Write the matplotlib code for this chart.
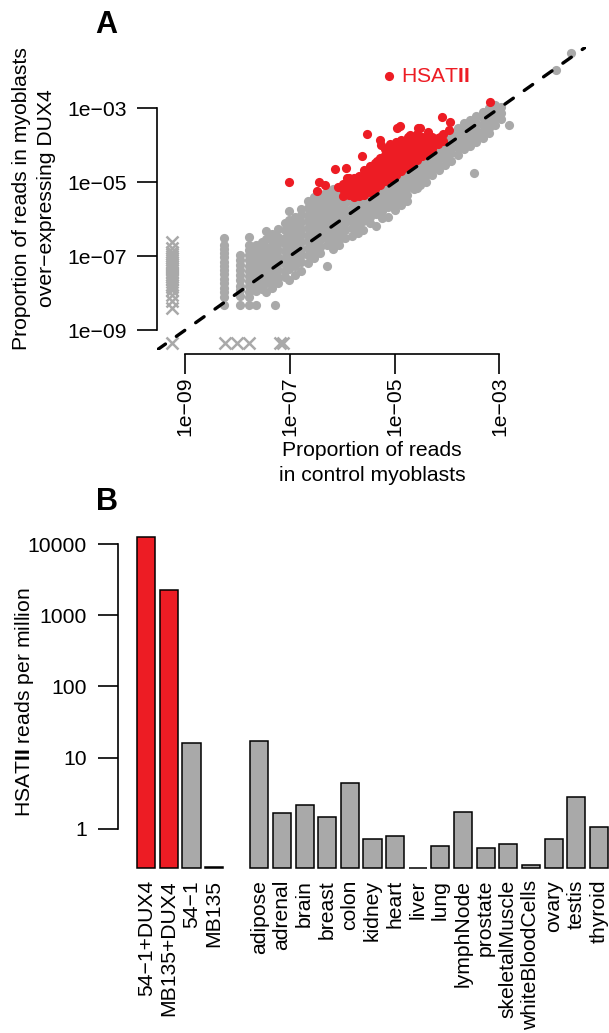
import numpy as np
import matplotlib
matplotlib.use('Agg')
import matplotlib.pyplot as plt
from matplotlib.ticker import FixedLocator, FixedFormatter, NullLocator

plt.rcParams['font.family'] = ['Liberation Sans', 'DejaVu Sans']
plt.rcParams['mathtext.fontset'] = 'custom'
plt.rcParams['mathtext.rm'] = 'Liberation Sans'
plt.rcParams['mathtext.it'] = 'Liberation Sans:italic'
plt.rcParams['mathtext.bf'] = 'Liberation Sans:bold'

RED = '#ED1C24'
GREY = '#A9A9A9'
FS = 15.2

# ---- panel A data (log10 proportion of reads) ----
# zeros are drawn as crosses at a floor value
ZERO_LX = -9.26
ZERO_LY = -9.34
ctrl_zero_ly = [-6.61, -6.79, -6.88, -6.94, -7.00, -7.05, -7.10, -7.16, -7.22, -7.27, -7.33,
                -7.39, -7.45, -7.51, -7.57, -7.63, -7.70, -7.77, -7.84, -7.92, -8.05, -8.22, -8.41]
dux_zero_lx = [-9.26, -8.25, -8.02, -7.79, -7.19, -7.14]

# grey repeats, grouped by control value: (log10 control, [log10 DUX4 ...])
grey_low = [
    (-8.26, [-6.51, -6.70, -6.81, -6.92, -7.03, -7.15, -7.26, -7.38, -7.49, -7.61, -7.74, -7.86, -7.97, -8.10, -8.32]),
    (-7.95, [-6.97, -7.10, -7.24, -7.37, -7.52, -7.66, -7.80, -7.93, -8.08, -8.32]),
    (-7.79, [-6.48, -6.71, -6.84, -6.98, -7.12, -7.27, -7.40, -7.55, -7.68, -7.82, -7.96, -8.10, -8.32]),
    (-7.64, [-6.70, -6.83, -6.97, -7.11, -7.25, -7.39, -7.53, -7.67, -7.81, -7.95, -8.32]),
    (-7.53, [-6.62, -6.80, -6.95, -7.10, -7.26, -7.42, -7.58, -7.74, -7.90]),
    (-7.45, [-6.32, -6.55, -6.75, -6.92, -7.08, -7.24, -7.40, -7.56, -7.72, -7.98]),
    (-7.34, [-6.40, -6.60, -6.78, -6.96, -7.14, -7.32, -7.50, -7.68, -7.86]),
    (-7.29, [-8.32]),
    (-7.22, [-6.28, -6.48, -6.66, -6.84, -7.02, -7.20, -7.38, -7.56, -7.72]),
    (-7.10, [-6.10, -6.30, -6.50, -6.68, -6.86, -7.04, -7.22, -7.40, -7.58]),
    (-7.02, [-5.78, -6.02, -6.22, -6.42, -6.60, -6.80, -7.00, -7.18, -7.36, -7.65]),
]
grey_band = [
    (-6.90, [-5.95, -6.14, -6.33, -6.52, -6.71, -6.90, -7.09, -7.28, -7.50]),
    (-6.78, [-5.72, -5.90, -6.08, -6.26, -6.44, -6.62, -6.80, -6.98, -7.16, -7.40]),
    (-6.66, [-5.52, -5.70, -5.88, -6.06, -6.24, -6.42, -6.60, -6.78, -6.96, -7.20]),
    (-6.54, [-5.40, -5.58, -5.76, -5.94, -6.12, -6.30, -6.48, -6.66, -6.84, -7.05]),
    (-6.42, [-5.32, -5.50, -5.68, -5.86, -6.04, -6.22, -6.40, -6.58, -6.76, -6.93]),
    (-6.30, [-5.25, -5.42, -5.60, -5.78, -5.96, -6.14, -6.32, -6.50, -6.70, -7.27]),
    (-6.18, [-5.18, -5.36, -5.54, -5.72, -5.90, -6.08, -6.26, -6.44, -6.62, -6.80]),
    (-6.06, [-5.30, -5.48, -5.66, -5.84, -6.02, -6.20, -6.38, -6.56, -6.70]),
    (-5.94, [-5.40, -5.58, -5.76, -5.94, -6.12, -6.30, -6.50]),
    (-5.82, [-5.35, -5.52, -5.70, -5.88, -6.06, -6.24, -6.45]),
    (-5.70, [-5.30, -5.48, -5.66, -5.84, -6.02, -6.20, -6.38]),
    (-5.60, [-5.32, -5.50, -5.68, -5.86, -6.04, -6.30]),
    (-5.48, [-5.22, -5.40, -5.58, -5.76, -5.94, -6.12]),
    (-5.36, [-5.15, -5.33, -5.51, -5.69, -5.87, -6.20]),
    (-5.24, [-5.05, -5.23, -5.41, -5.59, -5.77, -5.98]),
    (-5.12, [-4.95, -5.13, -5.31, -5.49, -5.67, -5.94]),
    (-5.00, [-4.85, -5.03, -5.21, -5.39, -5.57, -5.76]),
    (-4.88, [-4.75, -4.93, -5.11, -5.29, -5.47, -5.62]),
    (-4.76, [-4.62, -4.80, -4.98, -5.16, -5.34, -5.50]),
    (-4.64, [-4.50, -4.68, -4.86, -5.04, -5.20]),
    (-4.58, [-5.17]),
    (-4.52, [-4.38, -4.56, -4.74, -4.92, -5.08]),
    (-4.40, [-4.26, -4.44, -4.62, -4.80, -4.99]),
    (-4.28, [-4.10, -4.28, -4.46, -4.64, -4.80]),
    (-4.16, [-4.00, -4.18, -4.36, -4.54, -4.68]),
    (-4.04, [-3.80, -3.98, -4.16, -4.34, -4.55]),
    (-3.92, [-3.68, -3.86, -4.04, -4.22, -4.42]),
    (-3.80, [-3.55, -3.73, -3.91, -4.09, -4.28]),
    (-3.68, [-3.41, -3.59, -3.77, -3.95, -4.12]),
    (-3.56, [-3.32, -3.50, -3.68, -3.86, -4.02]),
    (-3.48, [-4.75]),
    (-3.44, [-3.22, -3.40, -3.58, -3.76, -3.92]),
    (-3.32, [-3.10, -3.28, -3.46, -3.64, -3.80]),
    (-3.20, [-3.01, -3.19, -3.37, -3.55, -3.68]),
    (-3.08, [-2.92, -3.10, -3.28, -3.46]),
    (-2.96, [-2.96, -3.14, -3.30]),
    (-2.82, [-3.46]),
    (-1.91, [-1.97]),
    (-1.64, [-1.52]),
]

# red: repeats enriched in DUX4 myoblasts
red_core = [
    (-5.98, [-5.38, -5.20, -5.05]),
    (-5.88, [-5.36, -5.18, -5.00, -4.88]),
    (-5.78, [-5.40, -5.24, -5.06, -4.90]),
    (-5.68, [-5.38, -5.20, -5.02, -4.84]),
    (-5.58, [-5.36, -5.18, -5.00, -4.82, -4.68]),
    (-5.48, [-5.28, -5.10, -4.92, -4.74, -4.58]),
    (-5.38, [-5.18, -5.00, -4.82, -4.64, -4.48]),
    (-5.28, [-5.08, -4.90, -4.72, -4.54, -4.36]),
    (-5.18, [-4.98, -4.80, -4.62, -4.44, -4.26, -4.10]),
    (-5.08, [-4.88, -4.70, -4.52, -4.34, -4.16, -3.98]),
    (-4.98, [-4.80, -4.62, -4.44, -4.26, -4.08, -3.92]),
    (-4.88, [-4.70, -4.52, -4.34, -4.16, -3.98, -3.86]),
    (-4.78, [-4.60, -4.42, -4.24, -4.06, -3.88]),
    (-4.68, [-4.50, -4.32, -4.14, -3.96, -3.80]),
    (-4.58, [-4.40, -4.22, -4.04, -3.86, -3.70]),
    (-4.48, [-4.30, -4.12, -3.94, -3.78]),
    (-4.38, [-4.20, -4.02, -3.86]),
    (-4.28, [-4.10, -3.92, -3.78]),
    (-4.18, [-3.98, -3.82]),
    (-4.08, [-3.90, -3.70]),
]
red_spread = [(-7.02, -4.99), (-6.49, -5.24), (-6.44, -5.01), (-6.33, -5.08), (-6.14, -4.65),
              (-6.08, -5.13), (-5.93, -4.61), (-5.92, -4.88), (-5.63, -4.30), (-5.53, -3.70),
              (-5.34, -4.43), (-5.28, -3.86), (-5.27, -4.00), (-4.96, -3.55), (-4.90, -3.48),
              (-4.74, -3.77), (-5.06, -4.05), (-4.55, -3.55), (-4.37, -3.64), (-4.09, -3.23),
              (-3.94, -3.37), (-3.96, -3.60), (-4.13, -3.78), (-4.52, -3.55), (-4.71, -3.73),
              (-3.18, -2.83)]
hsatii = (-5.10, -2.14)

a_ticks = [1e-9, 1e-7, 1e-5, 1e-3]
a_tick_labels = ['1e\u221209', '1e\u221207', '1e\u221205', '1e\u221203']

# ---- panel B data ----
cell_lines = ['54\u22121+DUX4', 'MB135+DUX4', '54\u22121', 'MB135']
cell_rpm = [12770, 2240, 15.8, 0.29]
tissues = ['adipose', 'adrenal', 'brain', 'breast', 'colon', 'kidney', 'heart', 'liver', 'lung',
           'lymphNode', 'prostate', 'skeletalMuscle', 'whiteBloodCells', 'ovary', 'testis', 'thyroid']
tissue_rpm = [17.1, 1.66, 2.17, 1.47, 4.41, 0.72, 0.80, 0.28, 0.58, 1.69, 0.53, 0.60, 0.31, 0.72, 2.81, 1.04]
b_ticks = [1, 10, 100, 1000, 10000]
B_FLOOR = 0.28


def flatten(groups):
    xs, ys = [], []
    for lx, lys in groups:
        xs += [lx] * len(lys)
        ys += lys
    return 10 ** np.array(xs), 10 ** np.array(ys)


W, H = 609, 1033
fig = plt.figure(figsize=(W / 100, H / 100), dpi=100)


def px_box(l, t, r, b):
    return [l / W, 1 - b / H, (r - l) / W, (b - t) / H]


# ================= panel A =================
axA = fig.add_axes(px_box(156.7, 47, 585.6, 350))
axA.set_xscale('log')
axA.set_yscale('log')
axA.set_xlim(10 ** -9.546, 10 ** -1.353)
axA.set_ylim(10 ** -9.54, 10 ** -1.35)

gx, gy = flatten(grey_low + grey_band)
axA.plot(gx, gy, 'o', ms=6.6, mew=0, color=GREY, zorder=2)
axA.plot([10 ** ZERO_LX] * len(ctrl_zero_ly), 10 ** np.array(ctrl_zero_ly), 'x',
         ms=8, mew=1.8, color=GREY, zorder=2, clip_on=False)
axA.plot(10 ** np.array(dux_zero_lx), [10 ** ZERO_LY] * len(dux_zero_lx), 'x',
         ms=8, mew=1.8, color=GREY, zorder=2, clip_on=False)

rx, ry = flatten(red_core)
sx = 10 ** np.array([p[0] for p in red_spread])
sy = 10 ** np.array([p[1] for p in red_spread])
axA.plot(rx, ry, 'o', ms=6.6, mew=0, color=RED, zorder=3)
axA.plot(sx, sy, 'o', ms=6.6, mew=0, color=RED, zorder=3)
axA.plot([10 ** hsatii[0]], [10 ** hsatii[1]], 'o', ms=6.6, mew=0, color=RED, zorder=3)
axA.annotate('HSAT$\\mathbf{II}$', (10 ** hsatii[0], 10 ** hsatii[1]), xytext=(8.5, 0),
             textcoords='offset points', color=RED, fontsize=FS, va='center', ha='left')

axA.axline((1e-9, 1e-9), (1e-3, 1e-3), color='black', lw=2.4,
           dashes=(3.1, 4.0), dash_capstyle='round', zorder=4)

for s in ['top', 'right']:
    axA.spines[s].set_visible(False)
axA.spines['left'].set_bounds(1e-9, 1e-3)
axA.spines['bottom'].set_bounds(1e-9, 1e-3)
axA.spines['bottom'].set_position(('outward', 2.9))
for s in ['left', 'bottom']:
    axA.spines[s].set_linewidth(1.2)
for axis in [axA.xaxis, axA.yaxis]:
    axis.set_major_locator(FixedLocator(a_ticks))
    axis.set_major_formatter(FixedFormatter(a_tick_labels))
    axis.set_minor_locator(NullLocator())
axA.tick_params(axis='both', length=14.4, width=1.2, labelsize=FS)
axA.tick_params(axis='y', pad=7.2)
axA.tick_params(axis='x', pad=1.5, labelrotation=90)

fig.text(21.3 / W, 1 - 198.5 / H, 'Proportion of reads in myoblasts', rotation=90,
         ha='center', va='center', fontsize=FS)
fig.text(46.7 / W, 1 - 198.5 / H, 'over\u2212expressing DUX4', rotation=90,
         ha='center', va='center', fontsize=FS)
fig.text(372 / W, 1 - 450.5 / H, 'Proportion of reads', ha='center', va='center', fontsize=FS)
fig.text(372 / W, 1 - 475.5 / H, 'in control myoblasts', ha='center', va='center', fontsize=FS)
fig.text(95.5 / W, 1 - 33.3 / H, 'A', fontsize=22, fontweight='bold', ha='left', va='baseline')

# ================= panel B =================
axB = fig.add_axes(px_box(118.3, 530, 609, 868))
axB.set_yscale('log')
names = cell_lines + tissues
values = np.array(cell_rpm + tissue_rpm)
slots = list(range(len(cell_lines))) + [len(cell_lines) + 1 + i for i in range(len(tissues))]
colors = [RED, RED] + [GREY] * (len(names) - 2)
axB.bar(slots, values - B_FLOOR, bottom=B_FLOOR, width=0.8, color=colors,
        edgecolor='black', linewidth=1.1, clip_on=False)
axB.set_xlim(-1.233, 20.45)
axB.set_ylim(B_FLOOR, 10 ** 4.2)

for s in ['top', 'right', 'bottom']:
    axB.spines[s].set_visible(False)
axB.spines['left'].set_bounds(1, 10000)
axB.spines['left'].set_linewidth(1.2)
axB.yaxis.set_major_locator(FixedLocator(b_ticks))
axB.yaxis.set_major_formatter(FixedFormatter([str(t) for t in b_ticks]))
axB.yaxis.set_minor_locator(NullLocator())
axB.tick_params(axis='y', length=14.4, width=1.2, labelsize=FS, pad=8.3)
axB.set_xticks(slots)
axB.set_xticklabels(names, rotation=90)
axB.tick_params(axis='x', length=0, labelsize=FS, pad=8.6)

fig.text(25 / W, 1 - 702.5 / H, 'HSAT$\\mathbf{II}$ reads per million', rotation=90,
         ha='center', va='center', fontsize=FS)
fig.text(95.5 / W, 1 - 510 / H, 'B', fontsize=22, fontweight='bold', ha='left', va='baseline')

fig.savefig('out.png', dpi=100)
